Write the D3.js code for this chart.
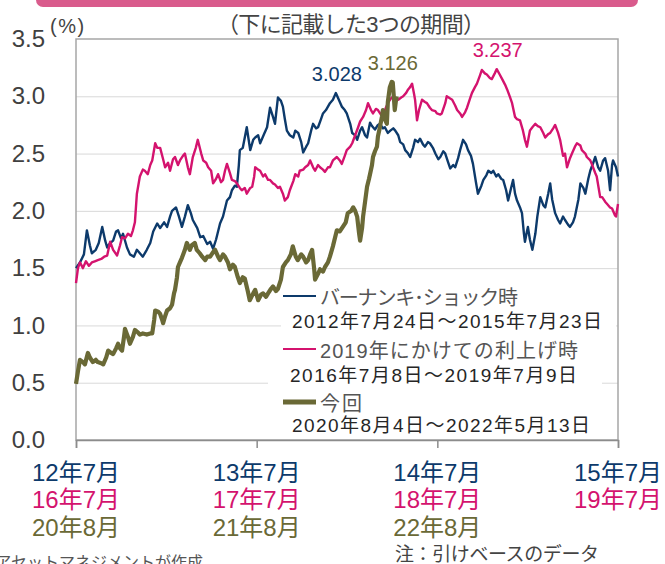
<!DOCTYPE html>
<html>
<head>
<meta charset="utf-8">
<script src="https://cdn.jsdelivr.net/npm/d3@7"></script>
<style>
    body { margin: 0; background: #fff; }
    #chart { width: 665px; height: 564px; overflow: hidden; }
    text { font-family: "Liberation Sans", Arial, "Noto Sans CJK JP", sans-serif; }
</style>
</head>
<body>
<div id="chart"></div>
<script>

// days since start of each period, yield (%)
const bernanke = [[0,1.50],[8,1.55],[16,1.62],[22,1.83],[28,1.70],[32,1.63],[40,1.66],[46,1.72],[53,1.86],[59,1.74],[63,1.68],[69,1.72],[75,1.74],[81,1.82],[85,1.83],[91,1.76],[95,1.80],[103,1.68],[109,1.62],[117,1.60],[123,1.66],[129,1.63],[135,1.60],[143,1.66],[150,1.72],[156,1.82],[164,1.89],[170,1.85],[178,1.90],[184,1.86],[190,1.95],[194,2.00],[202,2.03],[208,1.95],[214,1.86],[220,1.95],[226,2.05],[232,1.98],[236,1.92],[245,1.85],[251,1.77],[257,1.78],[265,1.71],[271,1.73],[277,1.67],[283,1.75],[291,1.89],[297,1.95],[305,2.09],[311,2.12],[315,2.18],[321,2.22],[325,2.21],[329,2.40],[331,2.53],[337,2.55],[345,2.73],[352,2.53],[358,2.62],[362,2.64],[368,2.66],[372,2.59],[380,2.67],[386,2.73],[392,2.90],[398,2.82],[402,2.76],[408,2.99],[414,2.96],[418,2.91],[422,2.80],[426,2.70],[432,2.66],[439,2.64],[443,2.70],[449,2.68],[455,2.60],[459,2.51],[465,2.56],[469,2.59],[475,2.70],[479,2.76],[485,2.72],[489,2.73],[495,2.80],[499,2.85],[505,2.88],[513,2.94],[519,2.97],[525,3.028],[531,2.97],[537,2.91],[543,2.88],[547,2.85],[554,2.76],[558,2.68],[564,2.66],[568,2.62],[574,2.70],[578,2.73],[584,2.66],[588,2.64],[594,2.77],[598,2.74],[604,2.71],[610,2.75],[614,2.76],[620,2.72],[624,2.73],[630,2.68],[635,2.70],[641,2.72],[645,2.70],[651,2.66],[655,2.60],[661,2.58],[665,2.53],[671,2.50],[675,2.47],[681,2.55],[685,2.62],[691,2.60],[695,2.63],[701,2.58],[705,2.56],[711,2.60],[715,2.59],[721,2.55],[726,2.50],[732,2.45],[736,2.47],[742,2.52],[746,2.50],[752,2.42],[756,2.37],[762,2.40],[766,2.38],[772,2.46],[776,2.53],[782,2.62],[788,2.58],[792,2.53],[798,2.48],[802,2.41],[808,2.25],[812,2.15],[819,2.22],[823,2.27],[829,2.31],[833,2.35],[839,2.33],[843,2.35],[849,2.30],[853,2.32],[859,2.28],[863,2.27],[869,2.18],[873,2.09],[879,2.20],[883,2.27],[887,2.15],[891,2.09],[897,2.03],[901,1.98],[905,1.80],[907,1.73],[911,1.82],[913,1.86],[917,1.75],[922,1.66],[928,1.80],[932,1.95],[938,2.12],[944,2.05],[948,2.03],[954,2.15],[958,2.24],[962,2.10],[968,1.98],[974,1.92],[978,1.89],[984,1.95],[988,1.92],[994,1.88],[998,1.86],[1004,1.90],[1008,1.95],[1015,2.10],[1019,2.24],[1025,2.20],[1029,2.15],[1035,2.28],[1039,2.35],[1045,2.42],[1049,2.47],[1055,2.38],[1059,2.35],[1065,2.44],[1069,2.46],[1075,2.35],[1079,2.18],[1083,2.40],[1085,2.44],[1091,2.38],[1095,2.30]];

const hike2016 = [[0,1.37],[4,1.50],[8,1.55],[14,1.50],[20,1.56],[26,1.52],[32,1.55],[38,1.56],[44,1.57],[51,1.58],[57,1.60],[63,1.61],[69,1.73],[75,1.66],[83,1.61],[89,1.70],[93,1.77],[99,1.76],[105,1.80],[111,1.78],[115,1.83],[119,1.90],[123,2.15],[127,2.25],[129,2.30],[135,2.36],[139,2.35],[145,2.32],[150,2.40],[154,2.44],[160,2.59],[164,2.55],[170,2.55],[176,2.45],[180,2.38],[186,2.42],[190,2.35],[196,2.45],[200,2.47],[206,2.40],[210,2.44],[216,2.48],[220,2.50],[226,2.38],[230,2.32],[236,2.47],[242,2.55],[246,2.62],[253,2.50],[257,2.44],[263,2.42],[267,2.38],[273,2.35],[277,2.24],[283,2.28],[287,2.32],[293,2.25],[297,2.27],[301,2.35],[305,2.41],[311,2.33],[315,2.27],[321,2.26],[325,2.24],[331,2.20],[335,2.18],[341,2.20],[345,2.15],[352,2.20],[356,2.21],[360,2.30],[362,2.38],[368,2.36],[372,2.35],[378,2.30],[382,2.32],[388,2.27],[392,2.27],[398,2.24],[402,2.23],[408,2.20],[412,2.21],[418,2.15],[422,2.09],[428,2.12],[432,2.18],[439,2.26],[443,2.32],[449,2.30],[452,2.35],[459,2.36],[463,2.38],[469,2.40],[473,2.44],[479,2.38],[483,2.35],[489,2.40],[493,2.38],[499,2.36],[503,2.34],[509,2.38],[513,2.38],[519,2.44],[527,2.47],[533,2.44],[537,2.41],[543,2.48],[547,2.53],[554,2.56],[558,2.59],[564,2.66],[570,2.73],[574,2.78],[580,2.82],[586,2.88],[590,2.94],[596,2.88],[600,2.85],[606,2.89],[610,2.88],[616,2.84],[620,2.82],[626,2.90],[630,2.94],[636,2.98],[641,3.00],[646,2.96],[651,2.97],[657,2.99],[661,3.00],[667,3.03],[671,3.06],[675,3.08],[679,3.11],[683,3.02],[685,2.97],[689,2.79],[693,2.88],[699,2.97],[705,2.95],[709,2.94],[715,2.90],[719,2.88],[726,2.87],[729,2.85],[736,2.84],[739,2.85],[746,2.94],[749,3.00],[756,2.98],[760,2.97],[766,2.92],[770,2.88],[776,2.85],[780,2.82],[786,2.86],[790,2.90],[796,2.98],[800,3.03],[806,3.08],[810,3.11],[816,3.18],[820,3.23],[826,3.20],[830,3.19],[836,3.16],[840,3.15],[846,3.20],[850,3.237],[856,3.19],[861,3.15],[867,3.10],[871,3.06],[877,2.99],[881,2.94],[887,2.82],[891,2.80],[897,2.79],[903,2.70],[907,2.62],[911,2.56],[917,2.70],[922,2.73],[928,2.76],[933,2.74],[938,2.73],[944,2.68],[948,2.64],[954,2.67],[958,2.68],[964,2.72],[968,2.75],[974,2.68],[978,2.62],[984,2.48],[988,2.50],[992,2.38],[998,2.46],[1002,2.50],[1008,2.56],[1012,2.59],[1019,2.57],[1022,2.53],[1029,2.50],[1032,2.47],[1039,2.44],[1042,2.41],[1049,2.33],[1052,2.30],[1059,2.12],[1063,2.12],[1069,2.08],[1073,2.06],[1079,2.03],[1083,2.02],[1089,1.96],[1091,1.95],[1095,2.06]];

const current = [[0,0.49],[4,0.60],[8,0.70],[14,0.68],[18,0.66],[24,0.76],[28,0.72],[34,0.68],[40,0.70],[44,0.68],[51,0.67],[55,0.66],[61,0.72],[65,0.78],[71,0.76],[75,0.75],[81,0.80],[85,0.84],[89,0.80],[93,0.78],[97,0.90],[99,0.97],[105,0.90],[109,0.84],[115,0.90],[119,0.96],[125,0.94],[129,0.92],[135,0.93],[143,0.92],[150,0.93],[154,0.93],[158,1.05],[160,1.13],[166,1.12],[170,1.10],[174,1.05],[176,1.02],[180,1.08],[184,1.13],[190,1.15],[194,1.18],[198,1.28],[200,1.31],[204,1.42],[206,1.51],[210,1.55],[214,1.59],[220,1.66],[224,1.72],[230,1.66],[234,1.70],[240,1.72],[244,1.66],[250,1.63],[255,1.60],[261,1.57],[265,1.60],[271,1.60],[277,1.64],[281,1.66],[287,1.60],[291,1.57],[297,1.62],[301,1.60],[307,1.55],[311,1.49],[317,1.53],[321,1.51],[327,1.42],[331,1.37],[337,1.42],[341,1.41],[347,1.30],[351,1.22],[358,1.28],[362,1.31],[366,1.25],[368,1.22],[374,1.27],[378,1.28],[384,1.25],[388,1.28],[394,1.32],[398,1.34],[404,1.30],[408,1.32],[414,1.40],[418,1.51],[424,1.55],[428,1.57],[434,1.62],[438,1.69],[444,1.60],[448,1.57],[455,1.62],[459,1.60],[465,1.55],[469,1.57],[473,1.62],[477,1.66],[481,1.50],[483,1.40],[489,1.45],[493,1.49],[499,1.47],[503,1.51],[509,1.55],[513,1.60],[519,1.69],[527,1.83],[533,1.82],[539,1.86],[545,1.90],[549,1.98],[556,2.00],[560,2.03],[564,2.00],[568,1.95],[572,1.80],[574,1.74],[578,1.85],[580,1.95],[584,2.08],[588,2.21],[592,2.28],[594,2.32],[598,2.40],[600,2.47],[604,2.52],[608,2.56],[610,2.65],[614,2.73],[618,2.82],[620,2.88],[624,2.80],[628,2.76],[630,2.95],[634,3.08],[638,3.126],[640,3.12],[642,3.00],[644,2.88],[646,2.95],[648,3.00]];

const yTicks = [0, 0.5, 1.0, 1.5, 2.0, 2.5, 3.0, 3.5];
const xTickDays = [0, 365, 730, 1095];
const xTickRows = [
    ["12年7月", "13年7月", "14年7月", "15年7月"],
    ["16年7月", "17年7月", "18年7月", "19年7月"],
    ["20年8月", "21年8月", "22年8月"]
];
const legendNames = ["バーナンキ･ショック時", "2019年にかけての利上げ時", "今回"];
const legendPeriods = ["2012年7月24日～2015年7月23日", "2016年7月8日～2019年7月9日", "2020年8月4日～2022年5月13日"];
const peakLabels = ["3.028", "3.237", "3.126"];


class YieldChart {

    constructor(parentElement, series) {
        this.parentElement = parentElement;
        this.series = series;
    }

    initVis() {
        let vis = this;

        vis.margin = {top: 39, right: 47, bottom: 124, left: 76};
        vis.width = 665 - vis.margin.left - vis.margin.right;
        vis.height = 564 - vis.margin.top - vis.margin.bottom;

        vis.root = d3.select("#" + vis.parentElement).append("svg")
            .attr("width", 665)
            .attr("height", 564);

        // pink header bar (cut off at the top)
        vis.root.append("rect")
            .attr("x", 36).attr("y", -12)
            .attr("width", 602).attr("height", 19)
            .attr("rx", 7)
            .attr("fill", "#d95b8c");

        vis.root.append("text")
            .attr("x", 351).attr("y", 32)
            .attr("text-anchor", "middle")
            .attr("textLength", 268)
            .style("font-size", "22px")
            .style("fill", "#444")
            .text("（下に記載した3つの期間）");

        vis.root.append("text")
            .attr("x", 50).attr("y", 33)
            .style("font-size", "20px")
            .style("letter-spacing", "1.5px")
            .style("fill", "#444")
            .text("(%)");

        vis.svg = vis.root.append("g")
            .attr("transform", "translate(" + vis.margin.left + "," + vis.margin.top + ")");

        vis.x = d3.scaleLinear()
            .domain([0, 1095])
            .range([0, vis.width]);
        vis.y = d3.scaleLinear()
            .domain([0, 3.5])
            .range([vis.height, 0]);

        // gridlines
        vis.svg.append("g")
            .attr("class", "grid")
            .call(d3.axisLeft(vis.y).tickValues(yTicks.slice(1, -1)).tickSize(-vis.width).tickFormat(""))
            .call(g => g.select(".domain").remove())
            .selectAll("line").attr("stroke", "#d9d9d9");

        // plot frame
        vis.svg.append("rect")
            .attr("width", vis.width).attr("height", vis.height)
            .attr("fill", "none")
            .attr("stroke", "#a6a6a6")
            .attr("stroke-width", 1.5);

        // lines
        vis.line = d3.line()
            .x(d => vis.x(d[0]))
            .y(d => vis.y(d[1]));

        vis.svg.selectAll(".series")
            .data(vis.series)
            .enter()
            .append("path")
            .attr("class", "series")
            .attr("fill", "none")
            .attr("stroke", d => d.color)
            .attr("stroke-width", d => d.width)
            .attr("stroke-linejoin", "round")
            .attr("d", d => vis.line(d.values));

        // peak labels
        vis.series.forEach((s, i) => {
            let peak = s.values.reduce((a, b) => b[1] > a[1] ? b : a);
            vis.svg.append("text")
                .attr("x", vis.x(peak[0]) + 1)
                .attr("y", vis.y(peak[1]) - 12)
                .attr("text-anchor", "middle")
                .style("font-size", "20px")
                .style("fill", s.color)
                .text(peakLabels[i]);
        });

        // y axis
        vis.svg.append("g")
            .attr("class", "y-axis")
            .call(d3.axisLeft(vis.y).tickValues(yTicks).tickSize(0).tickPadding(31).tickFormat(d3.format(".1f")))
            .call(g => g.select(".domain").remove())
            .selectAll("text")
            .style("font-size", "24px")
            .style("fill", "#404040")
            .style("font-family", '"Liberation Sans", Arial, sans-serif');

        // x axis
        vis.xAxis = vis.svg.append("g")
            .attr("class", "x-axis")
            .attr("transform", "translate(0," + vis.height + ")")
            .call(d3.axisBottom(vis.x).tickValues(xTickDays).tickSize(8).tickFormat(""));
        vis.xAxis.select(".domain").attr("stroke", "#8c8c8c").attr("stroke-width", 1.5);
        vis.xAxis.selectAll(".tick line").attr("stroke", "#8c8c8c").attr("stroke-width", 1.5);

        let rowY = [41, 68, 96];
        xTickRows.forEach((row, r) => {
            vis.svg.selectAll(".xlab" + r)
                .data(row)
                .enter()
                .append("text")
                .attr("x", (d, i) => vis.x(xTickDays[i]))
                .attr("y", vis.height + rowY[r])
                .attr("text-anchor", "middle")
                .style("font-size", "24px")
                .style("fill", vis.series[r].color)
                .text(d => d);
        });

        // legend
        let legend = vis.root.append("g").attr("class", "legend");
        legend.append("rect").attr("x", 281).attr("y", 286).attr("width", 335).attr("height", 50).attr("fill", "#fff");
        legend.append("rect").attr("x", 268).attr("y", 336).attr("width", 334).attr("height", 102).attr("fill", "#fff");

        let legendRows = [
            {lineY: 296, nameY: 305, nameLen: 198, periodY: 328, periodX: 292, periodLen: 310},
            {lineY: 349, nameY: 358, nameLen: 258, periodY: 382, periodX: 290, periodLen: 287},
            {lineY: 402, nameY: 411, nameLen: 42, periodY: 432, periodX: 292, periodLen: 298}
        ];
        legendRows.forEach((r, i) => {
            legend.append("line")
                .attr("x1", 283).attr("x2", 316)
                .attr("y1", r.lineY).attr("y2", r.lineY)
                .attr("stroke", vis.series[i].color)
                .attr("stroke-width", i == 2 ? 5 : 2);
            legend.append("text")
                .attr("x", 320).attr("y", r.nameY)
                .attr("textLength", r.nameLen)
                .style("font-size", "20px")
                .style("fill", "#555")
                .text(legendNames[i]);
            legend.append("text")
                .attr("x", r.periodX).attr("y", r.periodY)
                .attr("textLength", r.periodLen)
                .style("font-size", "19px")
                .style("fill", "#262626")
                .text(legendPeriods[i]);
        });

        // notes
        vis.root.append("text")
            .attr("x", 203).attr("y", 568)
            .attr("text-anchor", "end")
            .style("font-size", "16px")
            .style("fill", "#555")
            .text("アセットマネジメントが作成");

        vis.root.append("text")
            .attr("x", 395).attr("y", 561)
            .attr("textLength", 204)
            .style("font-size", "19px")
            .style("fill", "#444")
            .text("注：引けベースのデータ");
    }
}

let chart = new YieldChart("chart", [
    {values: bernanke, color: "#0d3a6b", width: 2.4},
    {values: hike2016, color: "#d4136e", width: 2.4},
    {values: current, color: "#6a6936", width: 4.2}
]);
chart.initVis();

</script>
</body>
</html>
